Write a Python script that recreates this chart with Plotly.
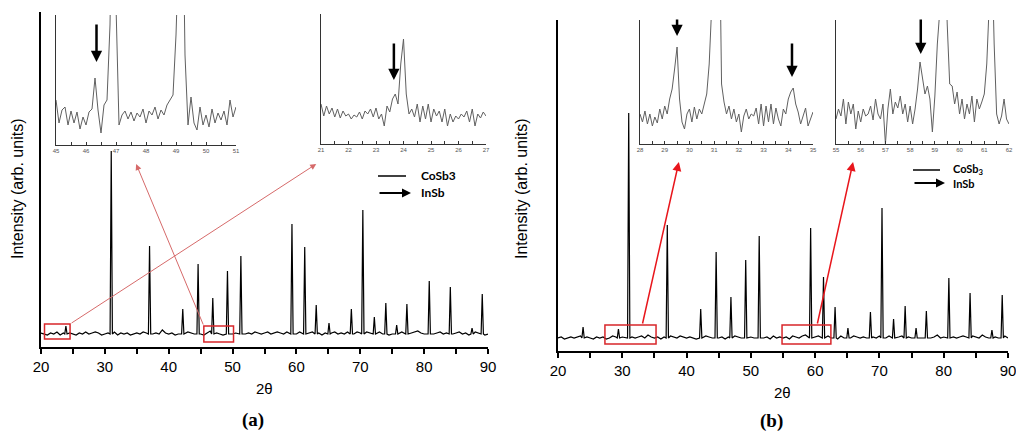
"""
XRD patterns of CoSb3 samples with InSb inclusions: two panels, each with two zoomed insets.
"""
import plotly.graph_objects as go

# ---- main patterns: CoSb3 reflections (2theta) and heights above baseline (arb. units)
peaks_a_pos = [23.9, 31.0, 37.0, 42.2, 44.6, 46.9, 49.2, 51.3, 59.3, 61.3, 63.1, 65.1,
               68.6, 70.4, 72.2, 74.0, 75.7, 77.3, 80.8, 84.1, 87.5, 89.1]
peaks_a_int = [8, 183, 88, 25, 70, 36, 63, 78, 110, 87, 29, 11,
               25, 124, 17, 31, 9, 30, 53, 47, 6, 40]

peaks_b_pos = [23.9, 29.4, 31.0, 37.0, 42.2, 44.6, 46.9, 49.2, 51.3, 59.3, 61.3, 63.1,
               65.1, 68.6, 70.4, 72.2, 74.0, 75.7, 77.3, 80.8, 84.1, 87.5, 89.1]
peaks_b_int = [11, 9, 225, 113, 29, 86, 41, 78, 102, 110, 61, 31,
               10, 26, 130, 19, 32, 10, 27, 60, 45, 8, 43]

# background noise, every 0.5 deg from 20 to 90
base_a = [1, 0, -1, 1, 0, 2, -1, 1, 0, 1,
          0, -1, 1, 0, 2, 0, 1, 2, 1, -1,
          0, 1, 0, 2, -1, 1, 0, 1, -1, 0,
          1, 0, 2, 1, -1, 0, 1, 0, 4, 1,
          0, 1, -1, 0, 1, 0, 2, 1, 0, 1,
          0, -1, 1, 3, 0, 1, 0, -1, 1, 1,
          0, 1, -1, 2, 0, 1, 0, 2, 1, 0,
          1, 2, 0, 1, 2, 1, 0, 2, 3, 1,
          0, 2, 1, 0, 1, 2, 0, 1, -1, 1,
          0, 1, 2, 0, 1, 0, 2, 1, 0, 2,
          1, 0, 2, 1, 0, 1, 2, 0, 1, -1,
          0, 1, 0, 2, 1, 0, 1, 2, 3, 1,
          0, 1, 2, 0, 1, 2, 0, 1, -1, 0,
          1, 2, 0, 1, -1, 0, 2, 1, 0, -1,
          0]
base_b = [0, 1, -1, 0, 1, 0, 1, 2, 0, 1,
          0, -1, 1, 0, 1, -1, 0, 2, 1, 0,
          1, 0, -1, 1, 0, 1, 2, 0, 3, 1,
          0, 1, -1, 1, 0, 2, 1, 0, 2, 1,
          0, 1, 0, -1, 1, 0, 2, 1, 0, 1,
          0, 1, -1, 1, 0, 2, 1, 0, 1, 0,
          1, 0, 2, 1, 0, 1, -1, 2, 0, 1,
          0, 1, -1, 2, 1, 0, 2, 3, 1, 0,
          1, 2, 0, 1, 2, 0, 1, -1, 2, 0,
          1, 0, 2, 1, 0, 1, 0, 2, 1, 0,
          2, 1, 0, 2, 1, 0, 1, 2, 0, 1,
          0, 2, 1, 0, 1, 2, 0, 1, 3, 0,
          1, 0, 2, 1, 0, 1, 2, 1, 0, 2,
          1, 0, 3, 1, 0, 2, 1, 0, 1, 2,
          0]

# ---- insets, sampled every 0.1 deg
ins_a1_start = 45.0
ins_a1 = [45, 22, 35, 38, 20, 34, 22, 33, 16, 28,
          20, 33, 36, 67, 35, 12, 40, 45, 120, 300,
          140, 20, 30, 34, 26, 33, 24, 32, 28, 36,
          22, 34, 30, 38, 26, 35, 30, 40, 45, 50,
          110, 300, 300, 90, 20, 48, 22, 15, 38, 20,
          30, 18, 36, 22, 32, 25, 34, 20, 45, 28,
          38]
ins_a2_start = 21.0
ins_a2 = [40, 28, 38, 30, 36, 27, 35, 26, 33, 28,
          30, 25, 29, 27, 32, 25, 33, 30, 35, 27,
          36, 25, 30, 18, 38, 32, 45, 50, 40, 80,
          105, 50, 30, 35, 27, 40, 22, 38, 25, 40,
          22, 35, 28, 33, 22, 35, 18, 30, 22, 28,
          25, 30, 27, 33, 22, 35, 18, 30, 26, 32,
          28]
ins_b1_start = 28.0
ins_b1 = [30, 22, 33, 20, 30, 18, 27, 21, 35, 25,
          38, 30, 45, 55, 75, 97, 45, 22, 15, 30,
          35, 22, 37, 25, 35, 30, 40, 50, 80, 250,
          250, 250, 250, 60, 42, 30, 38, 25, 35, 22,
          30, 12, 28, 35, 25, 30, 28, 36, 20, 40,
          18, 38, 22, 40, 20, 36, 25, 18, 35, 30,
          45, 52, 56, 40, 32, 20, 28, 36, 18, 26,
          32]
ins_b2_start = 55.0
ins_b2 = [25, 35, 28, 45, 20, 42, 30, 40, 15, 33,
          22, 35, 28, 30, 38, 24, 45, 30, 25, 40,
          0, 35, 55, 30, 42, 36, 48, 30, 40, 22,
          38, 20, 35, 55, 82, 65, 50, 58, 45, 12,
          48, 100, 200, 200, 200, 120, 60, 58, 40, 52,
          30, 45, 25, 40, 30, 48, 22, 45, 35, 42,
          50, 80, 200, 200, 100, 30, 20, 28, 45, 25,
          20]

FONT = 'Liberation Sans, Arial, sans-serif'

# the page body keeps its default 8px margin, so the figure is sized to fill the rest
PAGE_MARGIN = 8
FIG_W = 1024 - 2 * PAGE_MARGIN
FIG_H = 442 - 2 * PAGE_MARGIN


def build_pattern(base, pos, inten):
    xs = [20 + 0.5 * i for i in range(len(base))]
    pts = [(x, b) for x, b in zip(xs, base) if min(abs(x - p) for p in pos) > 0.3]
    for p, h in zip(pos, inten):
        pts += [(p - 0.18, 0), (p, h), (p + 0.18, 0)]
    pts.sort()
    return [p[0] for p in pts], [p[1] for p in pts]


def inset_x(start, vals):
    return [round(start + 0.1 * i, 2) for i in range(len(vals))]


def px(x):
    return (x - PAGE_MARGIN) / FIG_W


def py(y):
    return 1 - (y - PAGE_MARGIN) / FIG_H


fig = go.Figure()

xa, ya = build_pattern(base_a, peaks_a_pos, peaks_a_int)
xb, yb = build_pattern(base_b, peaks_b_pos, peaks_b_int)

fig.add_trace(go.Scatter(x=xa, y=ya, mode='lines', line=dict(color='black', width=1.2),
                         xaxis='x', yaxis='y'))
fig.add_trace(go.Scatter(x=inset_x(ins_a1_start, ins_a1), y=ins_a1, mode='lines',
                         line=dict(color='#606060', width=1), xaxis='x2', yaxis='y2'))
fig.add_trace(go.Scatter(x=inset_x(ins_a2_start, ins_a2), y=ins_a2, mode='lines',
                         line=dict(color='#606060', width=1), xaxis='x3', yaxis='y3'))
fig.add_trace(go.Scatter(x=xb, y=yb, mode='lines', line=dict(color='black', width=1.2),
                         xaxis='x4', yaxis='y4'))
fig.add_trace(go.Scatter(x=inset_x(ins_b1_start, ins_b1), y=ins_b1, mode='lines',
                         line=dict(color='#606060', width=1), xaxis='x5', yaxis='y5'))
fig.add_trace(go.Scatter(x=inset_x(ins_b2_start, ins_b2), y=ins_b2, mode='lines',
                         line=dict(color='#606060', width=1), xaxis='x6', yaxis='y6'))


def main_x(domain, anchor):
    vals = list(range(20, 95, 5))
    return dict(domain=domain, anchor=anchor, range=[20, 90], showline=True,
                linecolor='black', linewidth=1.5, ticks='outside', ticklen=5, tickwidth=1.5,
                tickcolor='black', tickvals=vals,
                ticktext=[str(v) if v % 10 == 0 else '' for v in vals],
                tickfont=dict(family=FONT, size=15, color='black'),
                ticklabeloverflow='allow',
                showgrid=False, zeroline=False, automargin=False)


def main_y(domain, anchor, rng):
    return dict(domain=domain, anchor=anchor, range=rng, showline=True, linecolor='black',
                linewidth=1.5, showticklabels=False, ticks='', showgrid=False, zeroline=False,
                automargin=False)


def inset_xaxis(domain, anchor, lo, hi):
    vals = [lo + 0.5 * i for i in range(int((hi - lo) * 2) + 1)]
    return dict(domain=domain, anchor=anchor, range=[lo, hi], showline=True,
                linecolor='#333', linewidth=1, ticks='inside', ticklen=3, tickwidth=1,
                tickcolor='#333', tickvals=vals,
                ticktext=[str(int(v)) if v == int(v) else '' for v in vals],
                tickfont=dict(family=FONT, size=6, color='#555'),
                ticklabeloverflow='allow',
                showgrid=False, zeroline=False, automargin=False)


def inset_yaxis(domain, anchor, top):
    return dict(domain=domain, anchor=anchor, range=[0, top], showline=True,
                linecolor='#333', linewidth=1, showticklabels=False, ticks='',
                showgrid=False, zeroline=False, automargin=False)


fig.update_layout(
    template='none',
    width=FIG_W, height=FIG_H,
    margin=dict(l=0, r=0, t=0, b=0, autoexpand=False),
    paper_bgcolor='white', plot_bgcolor='white',
    showlegend=False,
    xaxis=main_x([px(41), px(488)], 'y'),
    yaxis=main_y([py(347), py(12)], 'x', [-13, 322]),
    xaxis2=inset_xaxis([px(56), px(236)], 'y2', 45, 51),
    yaxis2=inset_yaxis([py(145), py(15)], 'x2', 130),
    xaxis3=inset_xaxis([px(321), px(486)], 'y3', 21, 27),
    yaxis3=inset_yaxis([py(144), py(14)], 'x3', 130),
    xaxis4=main_x([px(558), px(1008)], 'y4'),
    yaxis4=main_y([py(351), py(20)], 'x4', [-13, 318]),
    xaxis5=inset_xaxis([px(640), px(813)], 'y5', 28, 35),
    yaxis5=inset_yaxis([py(144), py(20)], 'x5', 124),
    xaxis6=inset_xaxis([px(836), px(1009)], 'y6', 55, 62),
    yaxis6=inset_yaxis([py(144), py(20)], 'x6', 124),
)

# red boxes marking the zoomed ranges
boxes = [('x', 'y', 20.55, 24.55, -5, 10), ('x', 'y', 45.5, 50.15, -8, 8),
         ('x4', 'y4', 27.3, 35.25, -6, 13), ('x4', 'y4', 54.85, 62.45, -6, 13)]
for xr, yr, x0, x1, y0, y1 in boxes:
    fig.add_shape(type='rect', xref=xr, yref=yr, x0=x0, x1=x1, y0=y0, y1=y1,
                  line=dict(color='#d8262a', width=1.5))

# red arrows from boxes to insets
red_arrows = [('x', 'y', 24.55, 10, 63.1, 170, '#d66a6a', 1),
              ('x', 'y', 45.5, 8, 34.9, 170, '#d66a6a', 1),
              ('x4', 'y4', 33.1, 13, 38.8, 176, '#e8161c', 1.5),
              ('x4', 'y4', 60.3, 13, 65.9, 176, '#e8161c', 1.5)]
for xr, yr, tx, ty, hx, hy, col, w in red_arrows:
    fig.add_annotation(xref=xr, yref=yr, axref=xr, ayref=yr, x=hx, y=hy, ax=tx, ay=ty,
                       text='', showarrow=True, arrowhead=2, arrowsize=1.2,
                       arrowwidth=w, arrowcolor=col)

# InSb markers inside the insets
insb_marks = [('x2', 'y2', 46.35, 83, 39), ('x3', 'y3', 23.65, 64, 38),
              ('x5', 'y5', 29.5, 108, 18), ('x5', 'y5', 34.15, 67, 35),
              ('x6', 'y6', 58.43, 90, 36)]
for xr, yr, x, y, length in insb_marks:
    fig.add_annotation(xref=xr, yref=yr, x=x, y=y, ax=0, ay=-length, text='',
                       showarrow=True, arrowhead=2, arrowsize=0.9, arrowwidth=2.5,
                       arrowcolor='black')

# legends
legends = [(378, 406, 411, 419, 176, 193, 'CoSb3', 12),
           (913, 940, 945, 951, 170, 183, 'CoSb<sub>3</sub>', 11)]
for lx0, lx1, ax1, tx, ly1, ly2, name, fs in legends:
    fig.add_shape(type='line', xref='paper', yref='paper', x0=px(lx0), x1=px(lx1),
                  y0=py(ly1), y1=py(ly1), line=dict(color='black', width=1.5))
    fig.add_annotation(xref='paper', yref='paper', x=px(ax1), y=py(ly2), ax=-(ax1 - lx0), ay=0,
                       text='', showarrow=True, arrowhead=2, arrowsize=0.9, arrowwidth=2,
                       arrowcolor='black')
    fig.add_annotation(xref='paper', yref='paper', x=px(tx), y=py(ly1), text='<b>' + name + '</b>',
                       showarrow=False, xanchor='left', yanchor='middle',
                       font=dict(family='Lato, Liberation Sans, sans-serif', size=fs, color='black'))
    fig.add_annotation(xref='paper', yref='paper', x=px(tx), y=py(ly2), text='<b>InSb</b>',
                       showarrow=False, xanchor='left', yanchor='middle',
                       font=dict(family='Lato, Liberation Sans, sans-serif', size=fs, color='black'))

# axis titles and panel labels
for x, y in [(17, 189), (521, 189)]:
    fig.add_annotation(xref='paper', yref='paper', x=px(x), y=py(y), text='Intensity (arb. units)',
                       textangle=-90, showarrow=False, xanchor='center', yanchor='middle',
                       font=dict(family=FONT, size=16, color='black'))
for x, y in [(264, 388), (782, 392)]:
    fig.add_annotation(xref='paper', yref='paper', x=px(x), y=py(y), text='2θ',
                       showarrow=False, xanchor='center', yanchor='middle',
                       font=dict(family=FONT, size=15, color='black'))
for x, y, lab in [(253, 420, '(a)'), (771, 421, '(b)')]:
    fig.add_annotation(xref='paper', yref='paper', x=px(x), y=py(y), text='<b>' + lab + '</b>',
                       showarrow=False, xanchor='center', yanchor='middle',
                       font=dict(family='Liberation Serif, Times New Roman, serif', size=19,
                                 color='black'))

fig.write_html("out.html")
